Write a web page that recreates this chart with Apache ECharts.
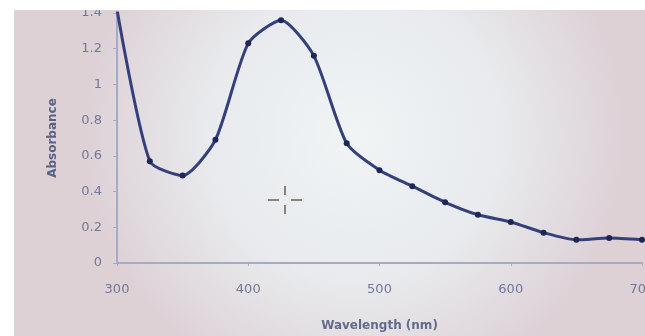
<!DOCTYPE html>
<html>
<head>
<meta charset="utf-8">
<script src="https://cdn.jsdelivr.net/npm/echarts@6/dist/echarts.min.js"></script>
<style>
  html, body { margin: 0; padding: 0; background: #fff; }
  #chart { width: 645px; height: 336px; }
</style>
</head>
<body>
<div id="chart"></div>
<script>
// wavelength (nm) and absorbance
var wavelengths = [300, 325, 350, 375, 400, 425, 450, 475, 500, 525, 550, 575, 600, 625, 650, 675, 700];
var absorbance = [1.42, 0.57, 0.49, 0.69, 1.23, 1.36, 1.16, 0.67, 0.52, 0.43, 0.34, 0.27, 0.23, 0.17, 0.13, 0.14, 0.13];
var yTicks = ['0', '0.2', '0.4', '0.6', '0.8', '1', '1.2', '1.4'];

var chart = echarts.init(document.getElementById('chart'));

var points = wavelengths.map(function (w, i) { return [w, absorbance[i]]; });
var textColor = '#72789a';

var option = {
  backgroundColor: new echarts.graphic.RadialGradient(0.55, 0.4, 0.8, [
    { offset: 0, color: '#eff4f5' },
    { offset: 0.55, color: '#e8eaed' },
    { offset: 1, color: '#ddd1d6' }
  ]),
  grid: { left: 117, right: 3, top: 13, bottom: 73, outerBoundsMode: 'none' },
  xAxis: {
    type: 'value',
    min: 300,
    max: 700,
    interval: 100,
    name: 'Wavelength (nm)',
    nameLocation: 'middle',
    nameGap: 57,
    nameTextStyle: { color: '#636a8e', fontSize: 12, fontWeight: 'bold', fontFamily: 'DejaVu Sans' },
    axisLine: { show: true, lineStyle: { color: '#a3abc8', width: 2 } },
    axisTick: { show: true, length: 3, lineStyle: { color: '#a3abc8' } },
    axisLabel: { color: textColor, fontSize: 13, margin: 20, fontFamily: 'DejaVu Sans' },
    splitLine: { show: false }
  },
  yAxis: {
    type: 'value',
    min: 0,
    max: 1.4,
    interval: 0.2,
    name: 'Absorbance',
    nameLocation: 'middle',
    nameGap: 58,
    nameRotate: 90,
    nameTextStyle: { color: '#5a6186', fontSize: 12, fontWeight: 'bold', fontFamily: 'DejaVu Sans' },
    axisLine: { show: true, lineStyle: { color: '#a3abc8', width: 2 } },
    axisTick: { show: true, length: 4, inside: false, lineStyle: { color: '#a3abc8' } },
    axisLabel: {
      color: textColor, fontSize: 13, margin: 15, fontFamily: 'DejaVu Sans',
      formatter: function (v) { return yTicks[Math.round(v / 0.2)]; }
    },
    splitLine: { show: false }
  },
  series: [{
    type: 'line',
    data: points,
    smooth: 0.22,
    clip: true,
    symbol: 'circle',
    symbolSize: 6,
    itemStyle: { color: '#1f2655' },
    lineStyle: { color: '#343f7c', width: 3 }
  }],
  graphic: [
    // mouse cursor cross in the photo
    { type: 'line', shape: { x1: 285, y1: 186, x2: 285, y2: 195 }, style: { stroke: '#8a8378', lineWidth: 2 } },
    { type: 'line', shape: { x1: 285, y1: 205, x2: 285, y2: 214 }, style: { stroke: '#8a8378', lineWidth: 2 } },
    { type: 'line', shape: { x1: 268, y1: 200, x2: 279, y2: 200 }, style: { stroke: '#8a8378', lineWidth: 2 } },
    { type: 'line', shape: { x1: 291, y1: 200, x2: 302, y2: 200 }, style: { stroke: '#8a8378', lineWidth: 2 } },
    // white border of the photo
    { type: 'rect', shape: { x: 0, y: 0, width: 645, height: 10 }, style: { fill: '#ffffff' }, z: 100 },
    { type: 'rect', shape: { x: 0, y: 0, width: 14, height: 336 }, style: { fill: '#ffffff' }, z: 100 }
  ]
};

chart.setOption(option);
</script>
</body>
</html>
